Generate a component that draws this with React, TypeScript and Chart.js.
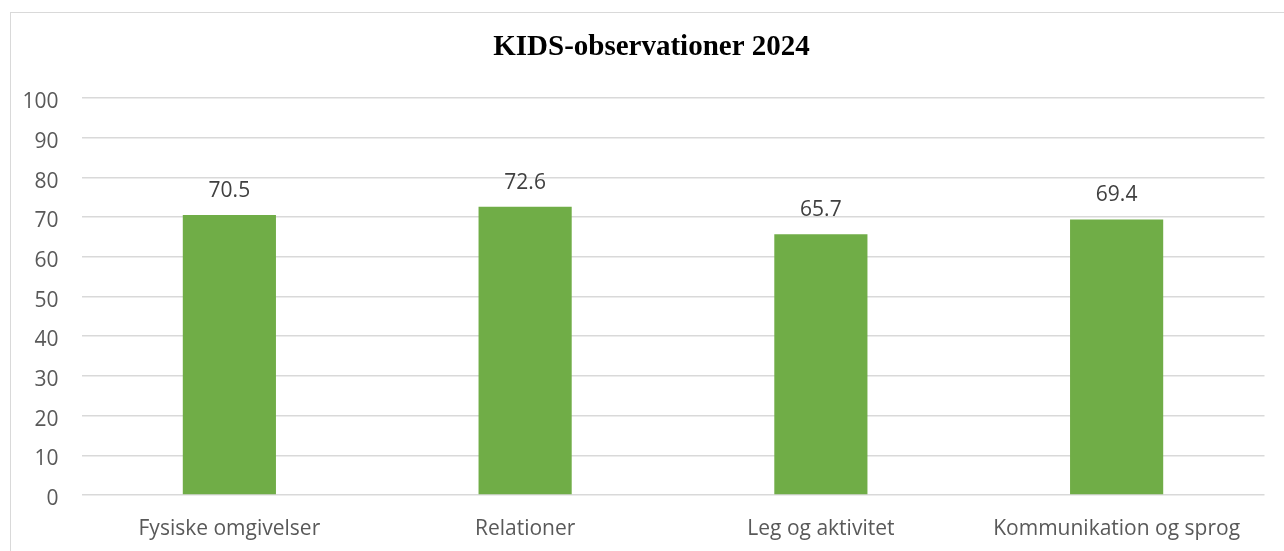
import React, { useEffect, useRef } from "react";
import { Chart, registerables } from "chart.js";

Chart.register(...registerables);

const categories = ["Fysiske omgivelser", "Relationer", "Leg og aktivitet", "Kommunikation og sprog"];
const values = [70.5, 72.6, 65.7, 69.4];
const titleText = "KIDS-observationer 2024";

const dataLabelPlugin = {
  id: "dataLabels",
  afterDatasetsDraw(chart: any) {
    const ctx = chart.ctx;
    const meta = chart.getDatasetMeta(0);
    ctx.save();
    ctx.font = "21px 'Open Sans'";
    ctx.fillStyle = "#404040";
    ctx.textAlign = "center";
    ctx.textBaseline = "middle";
    meta.data.forEach((bar: any, i: number) => {
      const v = chart.data.datasets[0].data[i] as number;
      ctx.fillText(v.toFixed(1), bar.x, bar.y - 24);
    });
    ctx.restore();
  },
};

const titlePlugin = {
  id: "frameTitle",
  afterDraw(chart: any) {
    const ctx = chart.ctx;
    ctx.save();
    ctx.font = "bold 29px 'Liberation Serif'";
    ctx.fillStyle = "#000000";
    ctx.textAlign = "center";
    ctx.textBaseline = "middle";
    ctx.fillText(titleText, 640.5, 35);
    ctx.restore();
  },
};

export default function App() {
  const ref = useRef<HTMLCanvasElement | null>(null);
  useEffect(() => {
    if (!ref.current) return;
    const chart = new Chart(ref.current, {
      type: "bar",
      data: {
        labels: categories,
        datasets: [
          {
            data: values,
            backgroundColor: "#70AD47",
            barPercentage: 0.315,
            categoryPercentage: 1,
          },
        ],
      },
      options: {
        animation: false,
        responsive: false,
        maintainAspectRatio: false,
        layout: { padding: { left: 0, right: 30.5, top: 85, bottom: 0 } },
        plugins: {
          legend: { display: false },
          tooltip: { enabled: false },
          title: { display: false },
        },
        scales: {
          x: {
            grid: { display: false, drawTicks: false },
            border: { display: false },
            ticks: { color: "#595959", font: { family: "'Open Sans'", size: 21 }, padding: 21, maxRotation: 0 },
            afterFit: (s: any) => {
              s.height = 57;
            },
          },
          y: {
            min: 0,
            max: 100,
            grid: { color: "#D9D9D9", lineWidth: 1.5, drawTicks: false },
            border: { display: false },
            ticks: {
              stepSize: 10,
              color: "#595959",
              font: { family: "'Open Sans'", size: 21, lineHeight: 0.4 },
              padding: 23,
              callback: (v: any) => ["", String(v)],
            },
            afterFit: (s: any) => {
              s.width = 70.5;
            },
          },
        },
      },
      plugins: [dataLabelPlugin, titlePlugin],
    });
    return () => chart.destroy();
  }, []);

  return (
    <div style={{ position: "fixed", left: 0, top: 0, width: 1284, height: 551, overflow: "hidden", background: "#fff" }}>
      <div
        style={{
          position: "absolute",
          left: 10,
          top: 12,
          width: 1284,
          height: 600,
          border: "1.5px solid #D9D9D9",
          boxSizing: "border-box",
        }}
      >
        <canvas ref={ref} width={1284} height={539} style={{ position: "absolute", left: 0, top: 0, width: 1284, height: 539 }} />
      </div>
    </div>
  );
}
